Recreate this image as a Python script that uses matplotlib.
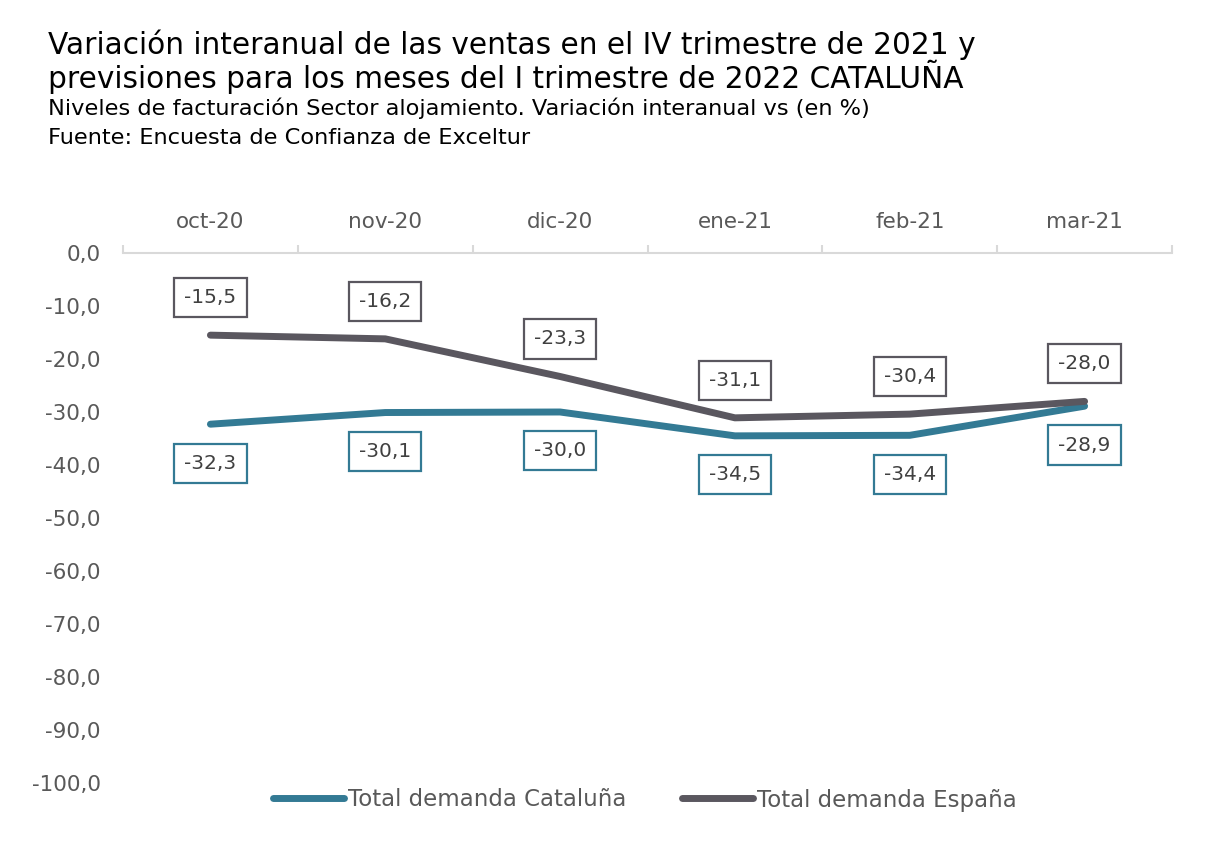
import matplotlib
matplotlib.use("Agg")
import matplotlib.pyplot as plt
from matplotlib.ticker import FuncFormatter, FixedLocator

plt.rcParams['font.family'] = ['DejaVu Sans']

meses = ['oct-20', 'nov-20', 'dic-20', 'ene-21', 'feb-21', 'mar-21']
cataluna = [-32.3, -30.1, -30.0, -34.5, -34.4, -28.9]
espana = [-15.5, -16.2, -23.3, -31.1, -30.4, -28.0]

c_cat = '#337a94'
c_esp = '#5a575f'
gris = '#595959'

fig = plt.figure(figsize=(12.08, 8.58), dpi=100)
W, H = 1208, 858
ax = fig.add_axes([123 / W, 1 - 783 / H, (1172 - 123) / W, (783 - 253) / H])

x = list(range(len(meses)))
ax.plot(x, cataluna, color=c_cat, lw=5, solid_capstyle='round', label='Total demanda Cataluña')
ax.plot(x, espana, color=c_esp, lw=5, solid_capstyle='round', label='Total demanda España')

def fmt(v):
    return ('%.1f' % v).replace('.', ',')

for xi, v in zip(x, espana):
    ax.annotate(fmt(v), (xi, v), xytext=(0, 27), textcoords='offset points',
                ha='center', va='center', fontsize=14.5, color='#404040',
                bbox=dict(boxstyle='square,pad=0.5', fc='white', ec=c_esp, lw=1.6))
for xi, v in zip(x, cataluna):
    ax.annotate(fmt(v), (xi, v), xytext=(0, -28), textcoords='offset points',
                ha='center', va='center', fontsize=14.5, color='#404040',
                bbox=dict(boxstyle='square,pad=0.5', fc='white', ec=c_cat, lw=1.6))

ax.set_xlim(-0.5, 5.5)
ax.set_ylim(-100, 0)
ax.set_yticks(range(-100, 1, 10))
ax.yaxis.set_major_formatter(FuncFormatter(lambda v, p: fmt(v)))

ax.xaxis.tick_top()
ax.set_xticks(x)
ax.set_xticklabels(meses)
ax.xaxis.set_minor_locator(FixedLocator([i - 0.5 for i in range(len(meses) + 1)]))
ax.tick_params(axis='x', which='major', length=0, pad=15, labelsize=15.5, labelcolor=gris)
ax.tick_params(axis='x', which='minor', length=6, width=1.5, color='#d9d9d9', direction='out')
ax.tick_params(axis='y', length=0, pad=16, labelsize=15.5, labelcolor=gris)

for s in ['bottom', 'left', 'right']:
    ax.spines[s].set_visible(False)
ax.spines['top'].set_color('#d9d9d9')
ax.spines['top'].set_linewidth(1.5)

fig.legend(loc='center', bbox_to_anchor=(645 / W, 1 - 800 / H), ncol=2, frameon=False,
           fontsize=16.5, labelcolor=gris, handlelength=3.1, handletextpad=0.2, columnspacing=2.4)

fig.text(48 / W, 1 - 45 / H, 'Variación interanual de las ventas en el IV trimestre de 2021 y',
         fontsize=21.3, va='center', ha='left', color='black')
fig.text(48 / W, 1 - 77 / H, 'previsiones para los meses del I trimestre de 2022 CATALUÑA',
         fontsize=21.3, va='center', ha='left', color='black')
fig.text(48 / W, 1 - 108 / H, 'Niveles de facturación Sector alojamiento. Variación interanual vs (en %)',
         fontsize=16.2, va='center', ha='left', color='black')
fig.text(48 / W, 1 - 138 / H, 'Fuente: Encuesta de Confianza de Exceltur',
         fontsize=16.2, va='center', ha='left', color='black')

fig.savefig('out.png', dpi=100)
